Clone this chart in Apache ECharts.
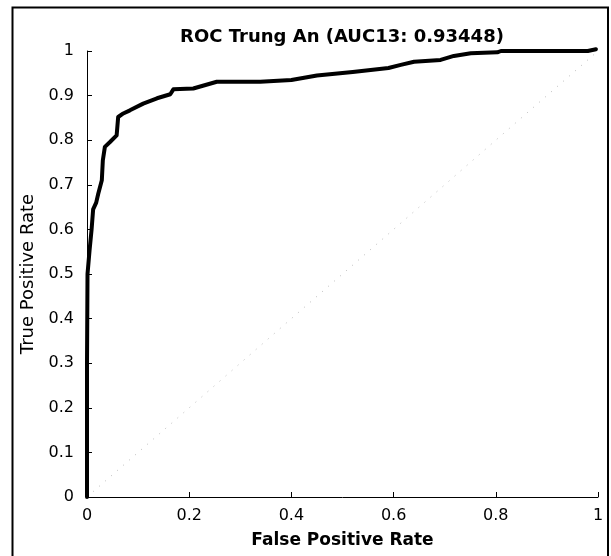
<!DOCTYPE html>
<html><head><meta charset="utf-8">
<script src="https://cdn.jsdelivr.net/npm/echarts@6/dist/echarts.min.js"></script>
<style>html,body{margin:0;padding:0;background:#fff}#c{width:611px;height:556px}</style>
</head><body><div id="c"></div>
<script>
const titleText = 'ROC Trung An (AUC13: 0.93448)';
const xName = 'False Positive Rate';
const yName = 'True Positive Rate';
const xTickLabels = ['0', '0.2', '0.4', '0.6', '0.8', '1'];
const yTickLabels = ['0', '0.1', '0.2', '0.3', '0.4', '0.5', '0.6', '0.7', '0.8', '0.9', '1'];
const fpr = [0, 0, 0.001, 0.005, 0.009, 0.012, 0.018, 0.022, 0.029, 0.031, 0.035, 0.045, 0.058, 0.061, 0.071, 0.084, 0.11, 0.137, 0.163, 0.169, 0.208, 0.254, 0.339, 0.40, 0.45, 0.52, 0.59, 0.614, 0.64, 0.692, 0.718, 0.751, 0.803, 0.81, 0.98, 0.996];
const tpr = [0, 0.3, 0.5, 0.553, 0.6, 0.645, 0.66, 0.68, 0.71, 0.755, 0.785, 0.796, 0.811, 0.852, 0.86, 0.867, 0.882, 0.894, 0.903, 0.914, 0.916, 0.931, 0.931, 0.935, 0.945, 0.953, 0.962, 0.969, 0.976, 0.98, 0.989, 0.995, 0.997, 1.0, 1.0, 1.004];
const diagX = [0, 1];
const diagY = [0, 1];

const chart = echarts.init(document.getElementById('c'), null, {renderer: 'canvas'});
const font = 'DejaVu Sans';
chart.setOption({
  animation: false,
  backgroundColor: '#fff',
  grid: {left: 87, right: 13, top: 51, bottom: 59, containLabel: false},
  graphic: [
    {type: 'rect', shape: {x: 12.5, y: 7.5, width: 595.5, height: 560}, style: {fill: 'none', stroke: '#000', lineWidth: 2}, silent: true},
    {type: 'text', x: 342, y: 37, style: {text: titleText, fill: '#000', font: 'bold 18px "DejaVu Sans"', textAlign: 'center', textVerticalAlign: 'middle'}}
  ],
  xAxis: {
    type: 'value', min: 0, max: 1, interval: 0.2,
    name: xName, nameLocation: 'middle', nameGap: 35,
    nameTextStyle: {fontFamily: font, fontSize: 17, fontWeight: 'bold', color: '#000'},
    axisLine: {show: true, onZero: false, lineStyle: {color: '#000', width: 1}},
    axisTick: {show: true, inside: true, length: 5, lineStyle: {color: '#000'}},
    axisLabel: {fontFamily: font, fontSize: 16, color: '#000', margin: 11, formatter: (v, i) => xTickLabels[i]},
    splitLine: {show: false}
  },
  yAxis: {
    type: 'value', min: 0, max: 1, interval: 0.1,
    name: yName, nameLocation: 'middle', nameGap: 42, nameRotate: 90,
    nameTextStyle: {fontFamily: font, fontSize: 18, color: '#000'},
    axisLine: {show: true, onZero: false, lineStyle: {color: '#000', width: 1}},
    axisTick: {show: true, inside: true, length: 5, lineStyle: {color: '#000'}},
    axisLabel: {fontFamily: font, fontSize: 16, color: '#000', margin: 13, formatter: (v, i) => yTickLabels[i]},
    splitLine: {show: false}
  },
  series: [
    {type: 'line', data: diagX.map((x, i) => [x, diagY[i]]), symbol: 'none', silent: true,
     lineStyle: {color: '#b8b8b8', width: 1, type: [1, 7]}},
    {type: 'line', data: fpr.map((x, i) => [x, tpr[i]]), symbol: 'none', clip: false,
     lineStyle: {color: '#000', width: 4, join: 'round', cap: 'round'}}
  ]
});
</script></body></html>
